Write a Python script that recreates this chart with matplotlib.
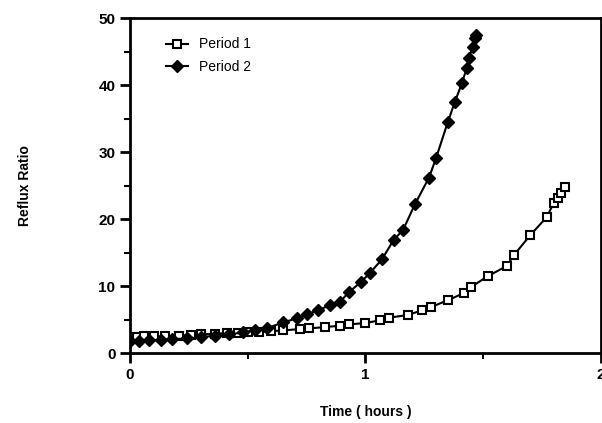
import matplotlib
matplotlib.use("Agg")
import matplotlib.pyplot as plt
import numpy as np

plt.rcParams['font.family'] = ['Liberation Sans', 'DejaVu Sans']

# Period 1 (open squares)
t1 = [0.00, 0.03, 0.06, 0.10, 0.15, 0.21, 0.26, 0.30, 0.36, 0.41, 0.46, 0.50,
      0.55, 0.60, 0.65, 0.72, 0.76, 0.83, 0.89, 0.93, 1.00, 1.06, 1.10, 1.18,
      1.24, 1.28, 1.35, 1.42, 1.45, 1.52, 1.60, 1.63, 1.70, 1.77, 1.80, 1.82,
      1.83, 1.85]
r1 = [2.4, 2.4, 2.5, 2.5, 2.5, 2.6, 2.7, 2.8, 2.9, 3.0, 3.0, 3.1,
      3.2, 3.3, 3.4, 3.6, 3.7, 3.9, 4.1, 4.3, 4.5, 4.9, 5.3, 5.7,
      6.4, 6.9, 7.9, 9.0, 9.9, 11.5, 13.0, 14.6, 17.6, 20.3, 22.4, 23.1,
      23.9, 24.8]

# Period 2 (filled diamonds)
t2 = [0.00, 0.04, 0.08, 0.13, 0.18, 0.24, 0.30, 0.36, 0.42, 0.48, 0.53, 0.58,
      0.65, 0.71, 0.75, 0.80, 0.85, 0.89, 0.93, 0.98, 1.02, 1.07, 1.12, 1.16,
      1.21, 1.27, 1.30, 1.35, 1.38, 1.41, 1.43, 1.44, 1.455, 1.465, 1.47]
r2 = [1.8, 1.8, 1.9, 2.0, 2.1, 2.2, 2.4, 2.6, 2.8, 3.1, 3.4, 3.7,
      4.6, 5.2, 5.8, 6.4, 7.2, 7.6, 9.1, 10.6, 12.0, 14.0, 16.9, 18.4,
      22.2, 26.2, 29.1, 34.5, 37.5, 40.3, 42.5, 44.0, 45.7, 47.0, 47.5]

fig = plt.figure(figsize=(6.02, 4.23), dpi=100)
ax = fig.add_axes([0.216, 0.165, 0.782, 0.792])

ax.plot(t1, r1, color="black", linewidth=1.5, marker="s", markersize=5.5,
        markerfacecolor="white", markeredgecolor="black", markeredgewidth=1.5,
        label="Period 1")
ax.plot(t2, r2, color="black", linewidth=1.5, marker="D", markersize=6,
        markerfacecolor="black", markeredgecolor="black",
        label="Period 2")

ax.set_xlim(0, 2)
ax.set_ylim(0, 50)
ax.set_xticks([0, 1, 2])
ax.set_xticks([0.5, 1.5], minor=True)
ax.set_yticks([0, 10, 20, 30, 40, 50])
ax.set_yticks([5, 15, 25, 35, 45], minor=True)
ax.tick_params(axis="both", which="major", direction="out", length=7, width=2,
               labelsize=11)
ax.tick_params(axis="both", which="minor", direction="out", length=4, width=1.5)
for lab in ax.get_xticklabels() + ax.get_yticklabels():
    lab.set_fontweight("bold")
for s in ax.spines.values():
    s.set_linewidth(2)

ax.set_xlabel("Time ( hours )", fontsize=10, fontweight="bold", labelpad=17)
ax.set_ylabel("Reflux Ratio", fontsize=10, fontweight="bold", labelpad=48)

ax.legend(loc="upper left", frameon=False, fontsize=10, handlelength=1.6,
          bbox_to_anchor=(0.05, 0.98), labelspacing=0.6)

fig.savefig("out.png", dpi=100)
